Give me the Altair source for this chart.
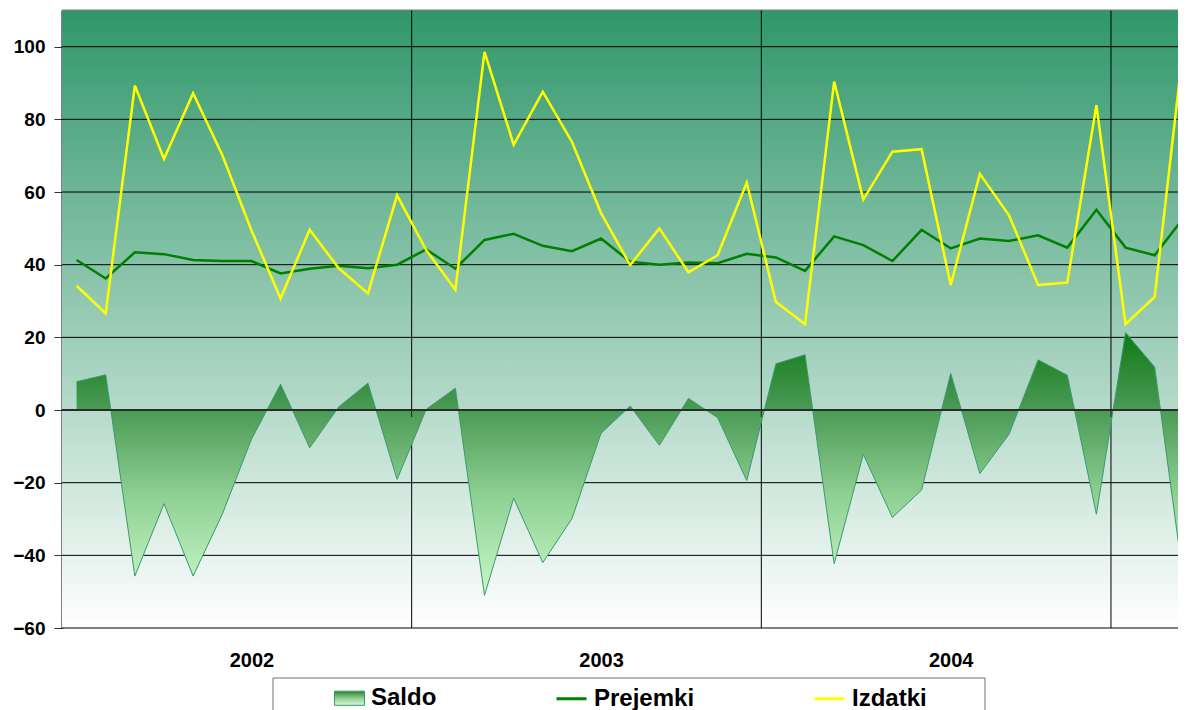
import altair as alt
import pandas as pd

# ---------------- data ----------------
prejemki = [41.3, 36.2, 43.4, 42.9, 41.3, 41.0, 41.0, 37.6, 38.9, 39.7, 39.0, 40.0,
            44.2, 38.9, 46.8, 48.5, 45.2, 43.7, 47.2, 40.8, 40.0, 40.6, 40.4, 43.0,
            42.0, 38.3, 47.8, 45.4, 41.0, 49.6, 44.5, 47.2, 46.5, 48.1, 44.7, 55.1,
            44.7, 42.6, 53.0]
izdatki = [34.2, 26.6, 89.3, 69.1, 87.2, 70.2, 49.5, 30.7, 49.6, 39.0, 32.1, 59.1,
           44.0, 33.1, 98.6, 73.0, 87.6, 73.8, 54.2, 39.9, 50.0, 37.9, 42.6, 62.6,
           29.7, 23.6, 90.4, 57.9, 71.1, 71.8, 34.4, 65.0, 53.6, 34.4, 35.1, 83.9,
           23.6, 31.1, 101.2]
saldo = [7.8, 9.7, -45.7, -25.8, -45.7, -28.7, -8.1, 7.1, -10.4, 0.9, 7.4, -19.1,
         0.2, 6.0, -51.0, -24.3, -42.0, -29.9, -6.4, 1.1, -9.7, 3.2, -2.1, -19.4,
         12.7, 15.2, -42.3, -12.2, -29.6, -22.0, 10.1, -17.5, -6.7, 13.8, 9.6, -28.7,
         21.3, 11.8, -47.5]
years = ["2002", "2003", "2004"]
year_label_pos = [6, 18, 30]
year_bounds = [11.5, 23.5, 35.5]
y_ticks = [-60, -40, -20, 0, 20, 40, 60, 80, 100]
series = ["Saldo", "Prejemki", "Izdatki"]

df = pd.DataFrame({"i": list(range(len(saldo))), "saldo": saldo,
                   "prejemki": prejemki, "izdatki": izdatki})
bounds_df = pd.DataFrame({"b": year_bounds, "z": [0] * len(year_bounds)})
ticks_df = pd.DataFrame({"v": y_ticks})
one = pd.DataFrame({"a": [0]})

FONT = "Liberation Sans"

# visible window of the month index (the picture is cut at the right edge)
x_scale = alt.Scale(domain=[-0.5, 37.8], nice=False, zero=False)
y_scale = alt.Scale(domain=[-60, 110.1], nice=False, zero=False)

label_expr = " : ".join(
    f"datum.value == {p} ? '{y}'" for p, y in zip(year_label_pos[:-1], years[:-1])
) + f" : '{years[-1]}'"

x_axis = alt.Axis(values=year_label_pos, labelExpr=label_expr, grid=False, ticks=False,
                  domain=False, labelFont=FONT, labelFontSize=20, labelFontWeight="bold",
                  labelColor="black", labelPadding=22, title=None)
y_axis = alt.Axis(values=y_ticks, format="d", grid=False, ticks=True, tickSize=8,
                  tickColor="#333333", domainColor="black", domainWidth=2,
                  labelFont=FONT, labelFontSize=19, labelFontWeight="bold",
                  labelColor="black", labelPadding=9, title=None)


def X(f):
    return alt.X(f"{f}:Q", scale=x_scale, axis=x_axis)


def Y(f):
    return alt.Y(f"{f}:Q", scale=y_scale, axis=y_axis)


bg_grad = alt.LinearGradient(gradient="linear", x1=0, x2=0, y1=0, y2=1,
                             stops=[alt.GradientStop(color="#30976a", offset=0),
                                    alt.GradientStop(color="#ffffff", offset=1)])
area_grad = alt.LinearGradient(gradient="linear", x1=0, x2=0, y1=0, y2=1,
                               stops=[alt.GradientStop(color="#0f7a14", offset=0),
                                      alt.GradientStop(color="#4a9a55", offset=0.29),
                                      alt.GradientStop(color="#8fd093", offset=0.62),
                                      alt.GradientStop(color="#c8f8c8", offset=1)])

background = alt.Chart(one).mark_rect(color=bg_grad).encode(
    x=alt.value(0), x2=alt.value("width"), y=alt.value(0), y2=alt.value("height"))

hgrid = alt.Chart(ticks_df).mark_rule(color="black", strokeWidth=1).encode(y=Y("v"))
vgrid = alt.Chart(bounds_df).mark_rule(color="black", strokeWidth=1).encode(x=X("b"))

area = alt.Chart(df).mark_area(
    color=area_grad, opacity=1, fillOpacity=1,
    line=alt.OverlayMarkDef(color="#3a9a6e", strokeWidth=1)
).encode(x=X("i"), y=Y("saldo"))

zero_line = alt.Chart(bounds_df).mark_rule(color="#222222", strokeWidth=1).encode(y=Y("z"))
zero_ticks = alt.Chart(bounds_df).mark_rule(color="#222222", strokeWidth=1, y2Offset=7).encode(
    x=X("b"), y=Y("z"), y2="z:Q")

line_p = alt.Chart(df).mark_line(color="#008000", strokeWidth=2.5).encode(x=X("i"), y=Y("prejemki"))
line_i = alt.Chart(df).mark_line(color="#ffff00", strokeWidth=2.5).encode(x=X("i"), y=Y("izdatki"))

top_border = alt.Chart(one).mark_rule(color="#808080", strokeWidth=1).encode(y=alt.value(0))

legend_grad = {"expr": "{gradient: 'linear', x1: 0, y1: 0, x2: 0, y2: 1, "
                       "stops: [{offset: 0, color: '#2f7f33'}, {offset: 0.5, color: '#8fcf92'}, "
                       "{offset: 1, color: '#d8f8d8'}]}"}

LEG = alt.Legend(orient="none", legendX=272, legendY=672, direction="horizontal",
                 title=None, columnPadding=113, labelOffset=6, symbolSize=900,
                 labelFont=FONT, labelFontSize=24, labelFontWeight="bold",
                 labelColor="black", padding=0)
legend_layer = alt.Chart(pd.DataFrame({"s": series})).transform_filter("false").mark_point(
    filled=True, opacity=1
).encode(
    fill=alt.Fill("s:N", scale=alt.Scale(domain=series, range=[legend_grad, "transparent", "transparent"]), legend=LEG),
    stroke=alt.Stroke("s:N", scale=alt.Scale(domain=series, range=["#3a9a6e", "#008000", "#ffff00"]), legend=LEG),
    shape=alt.Shape("s:N", scale=alt.Scale(domain=series, range=["M-1,-0.47H1V0.47H-1Z", "stroke", "stroke"]), legend=LEG),
    strokeWidth=alt.StrokeWidth("s:N", scale=alt.Scale(type="ordinal", domain=series, range=[1, 3, 3]), legend=LEG),
)

box_top = alt.Chart(one).mark_rule(color="#707070", strokeWidth=1).encode(
    x=alt.value(211), x2=alt.value(923), y=alt.value(668))
box_left = alt.Chart(one).mark_rule(color="#707070", strokeWidth=1).encode(
    x=alt.value(211), y=alt.value(668), y2=alt.value(705))
box_right = alt.Chart(one).mark_rule(color="#707070", strokeWidth=1).encode(
    x=alt.value(923), y=alt.value(668), y2=alt.value(705))

chart = alt.layer(
    background, hgrid, vgrid, area, zero_line, zero_ticks, line_p, line_i, top_border,
    box_top, box_left, box_right, legend_layer
).properties(
    width=1116, height=618,
    autosize=alt.AutoSizeParams(type="none"),
    padding={"left": 54, "top": 2, "right": 0, "bottom": 82},
    background="white",
).configure_view(stroke=None)

chart.save("out.html", embed_options={"renderer": "svg", "actions": False})
